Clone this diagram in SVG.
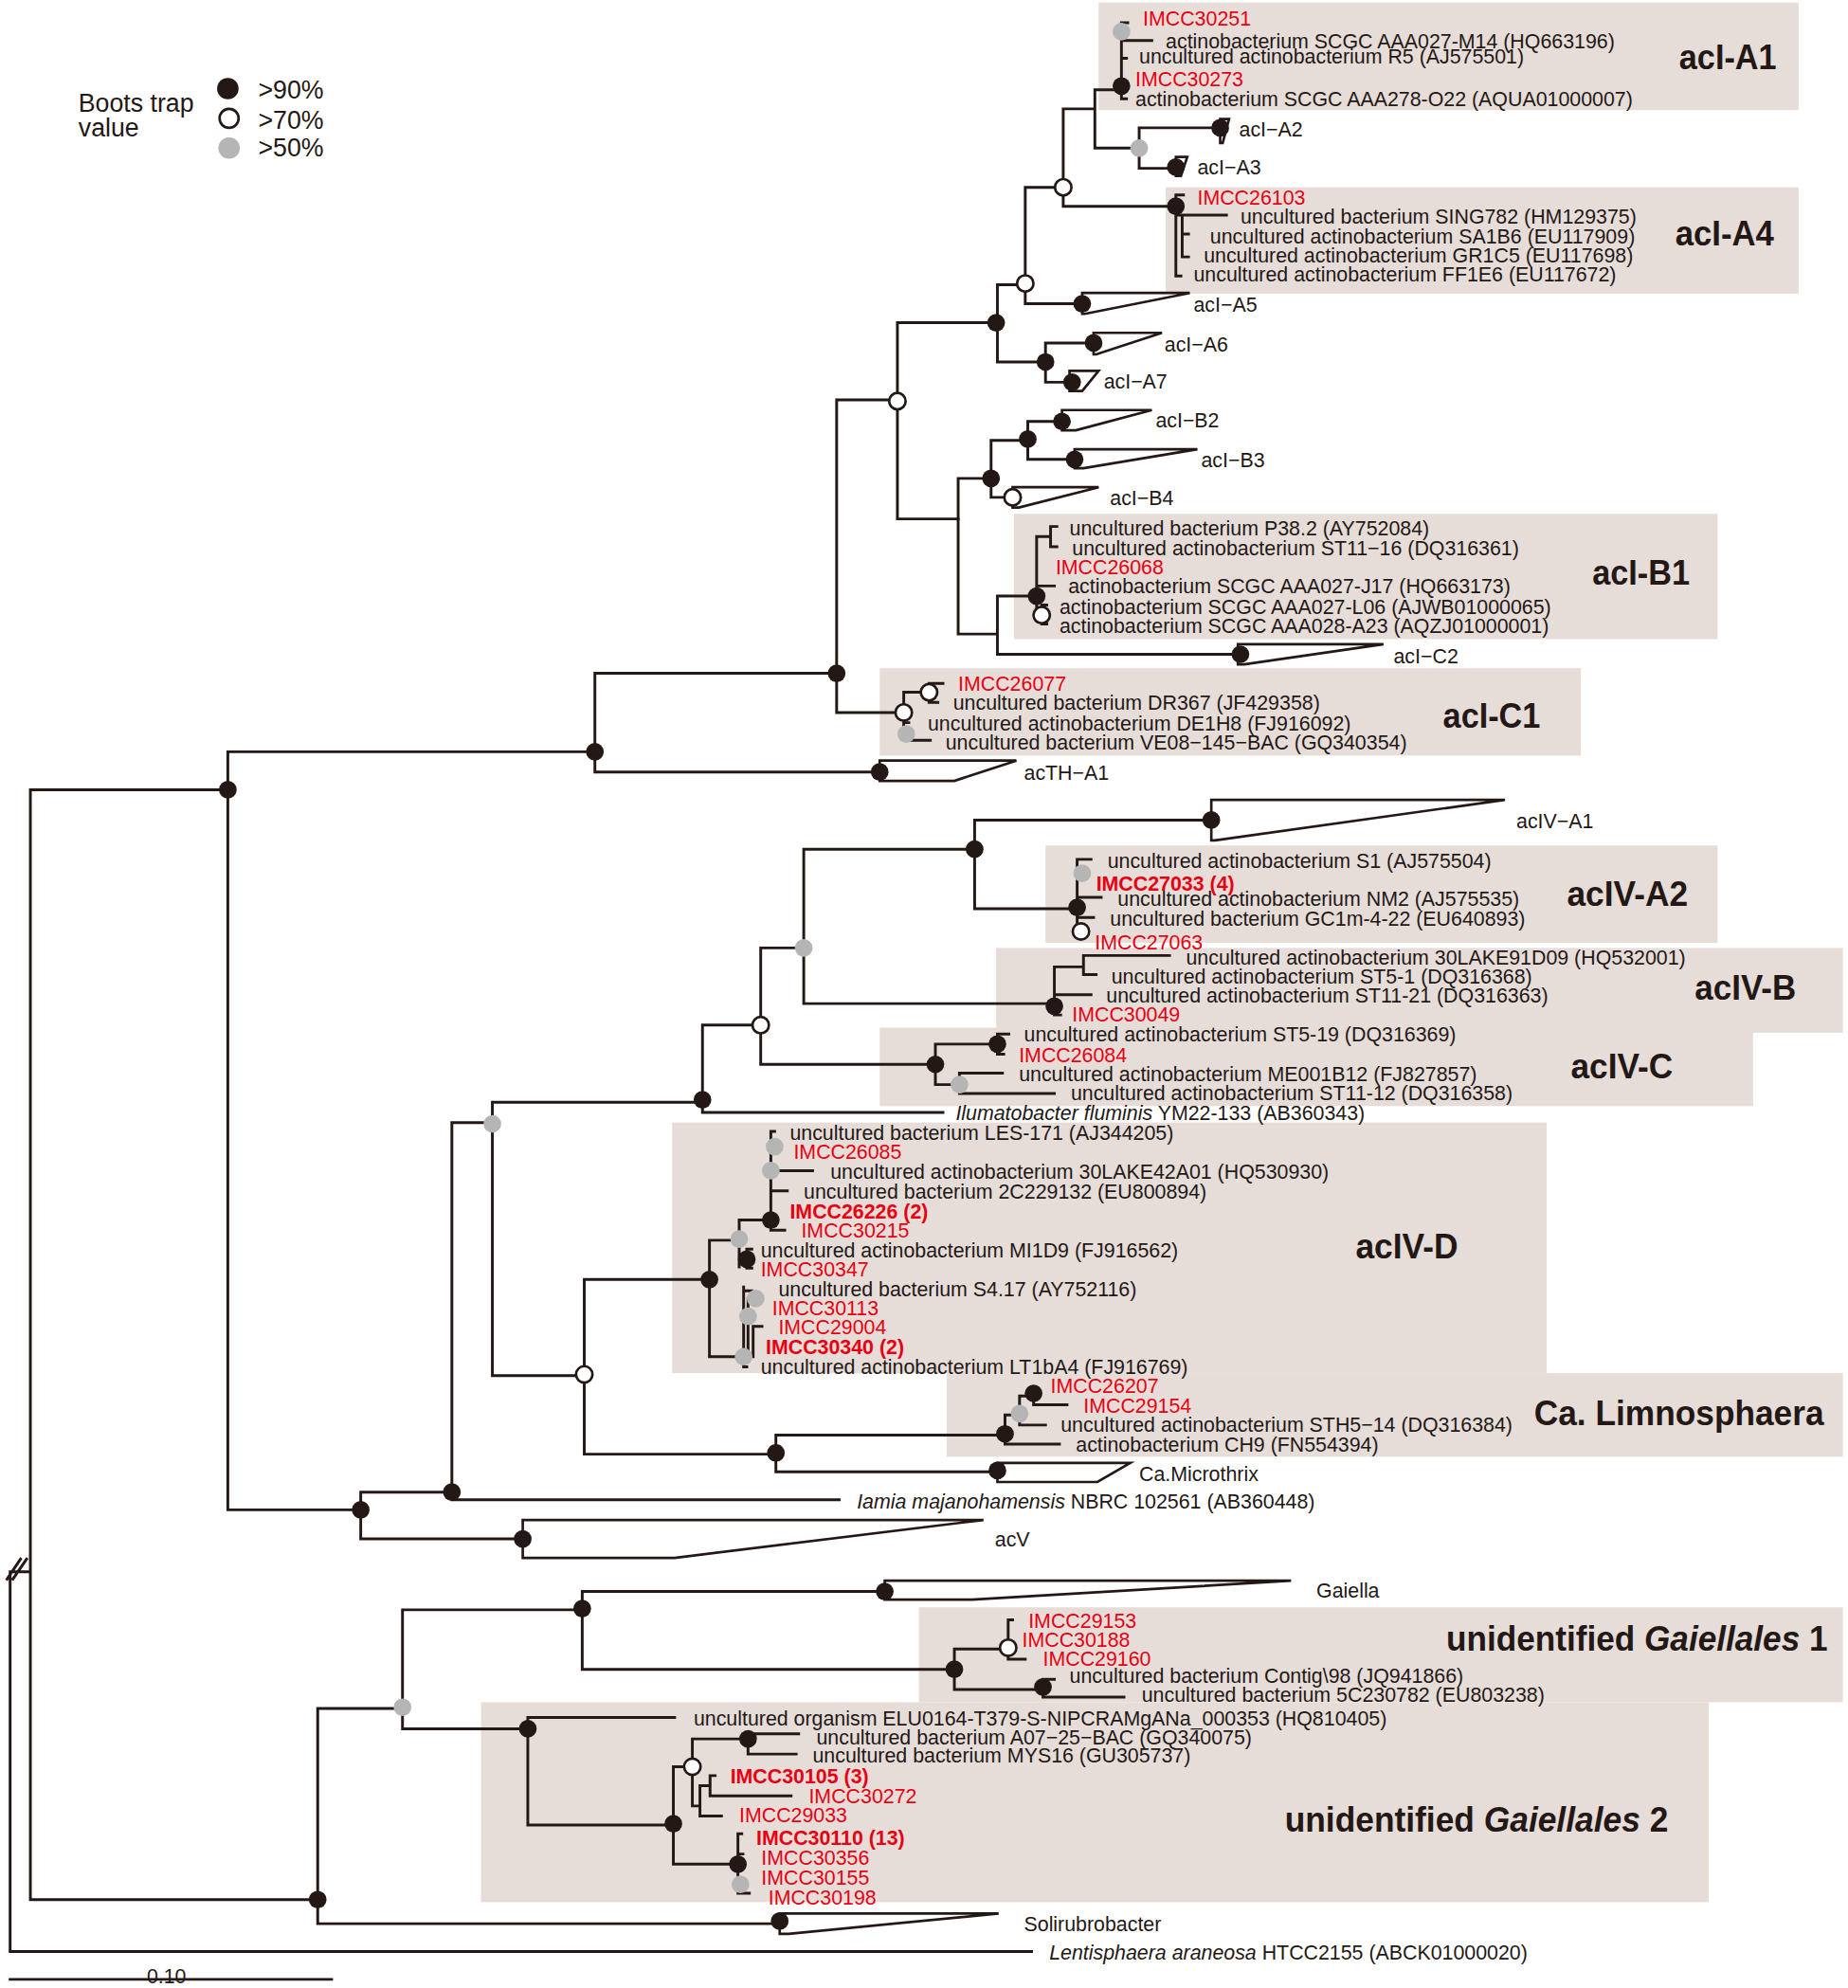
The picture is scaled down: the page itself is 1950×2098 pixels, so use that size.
<svg xmlns="http://www.w3.org/2000/svg" width="1950" height="2098" viewBox="0 0 1950 2098">
<style>
.ln{fill:none;stroke:#231815;stroke-width:2.2;stroke-linecap:square}
.cl{fill:#fff;stroke:#231815;stroke-width:2;stroke-linejoin:miter}
.b{fill:#231815}
.o{fill:#fff;stroke:#231815;stroke-width:2}
.g{fill:#b5b5b6}
.box{fill:#e6ddd9}
text{font-family:'Liberation Sans',Arial,sans-serif;fill:#231815}
.t{font-size:16px}
.r{fill:#e60012}
.bd{font-weight:bold}
.lab{font-size:27px;font-weight:bold}
.lg{font-size:20px}
</style>
<rect width="1950" height="2098" fill="#fff"/>
<g transform="scale(1.3356)">
<g id="boxes">
<rect class="box" x="868" y="2" width="553" height="85"/>
<rect class="box" x="921" y="148" width="500" height="84"/>
<rect class="box" x="801" y="406" width="556" height="99"/>
<rect class="box" x="695" y="528" width="554" height="69"/>
<rect class="box" x="826" y="668" width="531" height="77"/>
<rect class="box" x="787" y="749" width="669" height="67"/>
<rect class="box" x="695" y="812" width="690" height="62"/>
<rect class="box" x="531" y="887" width="691" height="198"/>
<rect class="box" x="748" y="1085" width="708" height="66"/>
<rect class="box" x="726" y="1270" width="730" height="75"/>
<rect class="box" x="380" y="1345" width="970" height="158"/>
</g>
<g id="connectors" class="ln">
<path d="M24,624H180M24,624V1501H251M8,1242H24M8,1242V1542H815M5.6,1247.7L16.2,1231.9M10.2,1247.7L21,1231.9"/>
<path d="M180,594V1193M180,594H470M180,1193H285M470,532V610M470,532H661M470,610H695M661,316V563M661,316H709M661,563H714M709,255V410M709,255H787M709,410H757"/>
<path d="M788,225V286M788,225H810M788,286H826M810,148V240M810,148H840M810,240H855M840,86V163M840,86H865M840,163H929M865,71V117M865,71H886M865,117H900"/>
<path d="M886,18V78M886,18H891M886,32H910M886,46H890M886,78H890M900,101V133M900,101H964M900,133H929M826,271V302M826,271H864M826,302H846"/>
<path d="M929,154V218M929,154H935M929,170H969M934,170V203M934,185H939M934,203H939M929,218H933"/>
<path d="M757,378V501M757,378H783M757,501H788M783,348V393M783,348H812M783,393H800M812,333V363M812,333H839M812,363H849M788,471V517M788,471H819M788,517H978"/>
<path d="M819,424V486M819,424H830M830,416V432M830,416H835M830,432H835M819,463H833M819,486H823M823,478V493M823,478H827M823,493H827"/>
<path d="M714,547V585M714,547H734M734,540V555M734,540H745M734,555H741M714,571H718M714,585H735"/>
<path d="M285,1179V1216M285,1179H357M285,1216H413M357,887V1185M357,887H389M357,1185H663"/>
<path d="M389,871V1087M389,871H555M389,1087H461.6M555,810V879M555,810H601M555,879H745M601,749V841M601,749H635M601,841H739M635,671V793M635,671H770M635,793H833M770,648V718M770,648H957M770,718H851"/>
<path d="M851,679V740M851,679H862M851,709H870M851,725H864M851,740H856"/>
<path d="M833,764V802M833,764H856M856,755V770M856,755H924M856,770H866M833,786H862M833,802H838"/>
<path d="M739,825V857M739,825H788M788,817V833M788,817H797M788,833H793M739,857H758M758,848V864M758,848H792M758,864H833"/>
<path d="M461.6,1011V1149M461.6,1011H560.5M461.6,1149H613M560.5,980V1072M560.5,980H584M560.5,1072H587.5M584,964V1001M584,964H609M584,995H590M590,987V1002M590,987H594M590,1002H594"/>
<path d="M609,894V972M609,894H612M609,925H642M609,941H622M609,972H620"/>
<path d="M587.5,1017V1080M587.5,1020H594M591,1026V1072M595,1048H602M595,1048V1072M587.5,1080H590"/>
<path d="M613,1134V1163M613,1134H794M613,1163H788M794,1118V1141M794,1118H805.5M794,1141H837M805.5,1103V1126M805.5,1103H816.6M805.5,1126H826M816.6,1097V1110M816.6,1097H820M816.6,1110H843"/>
<path d="M251,1350V1520M251,1350H318M251,1520H616M318,1272V1366M318,1272H460M318,1366H417M460,1257.5V1319M460,1257.5H699M460,1319H754"/>
<path d="M754,1303V1335M754,1303H796.5M754,1335H824M796.5,1280V1311M796.5,1280H800M796.5,1311H810M824,1327V1341M824,1327H833M824,1341H888"/>
<path d="M417,1357V1442M417,1357H533M417,1442H532M532,1396V1473M532,1396H547M532,1473H583M547,1374V1427M547,1374H591M547,1427H553M591,1370V1386M591,1370H631M591,1386H629M553,1411V1435M553,1411H561M553,1435H570M561,1403V1419M561,1403H565M561,1419H625M583,1449V1496M583,1449H586M583,1465H587M583,1496H592"/>
<path d="M8,1564H262"/>
</g>
<g id="collapsed">
<polygon class="cl" points="964,94 971,94 966,113 964,113"/>
<polygon class="cl" points="929,124 938,124 933,139 929,139"/>
<polygon class="cl" points="855,231.5 940,231.5 857,248 855,248"/>
<polygon class="cl" points="864,263 918,263 866,280 864,280"/>
<polygon class="cl" points="845,293 868,293 855,309 845,309"/>
<polygon class="cl" points="839,324 910,324 850,340 839,340"/>
<polygon class="cl" points="849,355 946,355 856,370 849,370"/>
<polygon class="cl" points="800,385 868,385 805,401 800,401"/>
<polygon class="cl" points="978,509 1093,509 983,525 978,525"/>
<polygon class="cl" points="695,601 803,601 754,617 695,617"/>
<polygon class="cl" points="957,632 1189,632 960,664 957,664"/>
<polygon class="cl" points="788,1156 893,1156 867,1171 788,1171"/>
<polygon class="cl" points="413,1201 777,1201 533,1231 413,1231"/>
<polygon class="cl" points="699,1249 1020,1249 768,1264 699,1264"/>
<polygon class="cl" points="616,1512 789,1512 623,1528 616,1528"/>
</g>
<g id="support-black" class="b">
<circle cx="180" cy="624" r="7"/><circle cx="470" cy="594" r="7"/><circle cx="661" cy="532" r="7"/><circle cx="787" cy="255" r="7"/><circle cx="826" cy="286" r="7"/><circle cx="855" cy="240" r="7"/><circle cx="864" cy="271" r="7"/><circle cx="847" cy="302" r="7"/><circle cx="886" cy="68" r="7"/><circle cx="964" cy="101" r="7"/><circle cx="929" cy="132" r="7"/><circle cx="929" cy="163" r="7"/><circle cx="783" cy="378" r="7"/><circle cx="812" cy="347" r="7"/><circle cx="839" cy="333" r="7"/><circle cx="849" cy="363" r="7"/><circle cx="819" cy="471" r="7"/><circle cx="980" cy="517" r="7"/><circle cx="695" cy="610" r="7"/><circle cx="285" cy="1193" r="7"/><circle cx="357" cy="1179" r="7"/><circle cx="413" cy="1216" r="7"/><circle cx="555" cy="869" r="7"/><circle cx="770" cy="671" r="7"/><circle cx="957" cy="648" r="7"/><circle cx="851" cy="717" r="7"/><circle cx="833" cy="795" r="7"/><circle cx="739" cy="841" r="7"/><circle cx="788" cy="825" r="7"/><circle cx="560.5" cy="1011" r="7"/><circle cx="609" cy="964" r="7"/><circle cx="590" cy="995" r="7"/><circle cx="613" cy="1148" r="7"/><circle cx="794" cy="1133" r="7"/><circle cx="816.6" cy="1101" r="7"/><circle cx="788" cy="1162" r="7"/><circle cx="460" cy="1271" r="7"/><circle cx="699" cy="1257.5" r="7"/><circle cx="754" cy="1319" r="7"/><circle cx="824" cy="1333" r="7"/><circle cx="417" cy="1366" r="7"/><circle cx="532" cy="1441" r="7"/><circle cx="591" cy="1374" r="7"/><circle cx="583" cy="1473" r="7"/><circle cx="251" cy="1501" r="7"/><circle cx="616" cy="1518" r="7"/>
</g>
<g id="support-open" class="o">
<circle cx="709" cy="317" r="6.5"/><circle cx="810" cy="224" r="6.5"/><circle cx="840" cy="148" r="6.5"/><circle cx="800" cy="393" r="6.5"/><circle cx="823" cy="486" r="6.5"/><circle cx="714" cy="563" r="6.5"/><circle cx="734" cy="547" r="6.5"/><circle cx="601" cy="810" r="6.5"/><circle cx="854" cy="736" r="6.5"/><circle cx="461.6" cy="1086" r="6.5"/><circle cx="796.5" cy="1302" r="6.5"/><circle cx="547" cy="1396" r="6.5"/>
</g>
<g id="support-gray" class="g">
<circle cx="886" cy="25" r="7"/><circle cx="900" cy="117" r="7"/><circle cx="716" cy="580" r="7"/><circle cx="389" cy="888" r="7"/><circle cx="635" cy="749" r="7"/><circle cx="855" cy="690" r="7"/><circle cx="758" cy="857" r="7"/><circle cx="584" cy="979" r="7"/><circle cx="612" cy="906" r="7"/><circle cx="609" cy="925" r="7"/><circle cx="597" cy="1026" r="7"/><circle cx="591" cy="1040" r="7"/><circle cx="587.5" cy="1072" r="7"/><circle cx="805.5" cy="1117" r="7"/><circle cx="318" cy="1349" r="7"/><circle cx="585" cy="1489" r="7"/>
</g>
<g id="clade-acI-A1">
<text x="903" y="20" class="t r">IMCC30251</text>
<text x="921" y="38" class="t">actinobacterium SCGC AAA027-M14 (HQ663196)</text>
<text x="900" y="50" class="t">uncultured actinobacterium R5 (AJ575501)</text>
<text x="897" y="68" class="t r">IMCC30273</text>
<text x="897" y="84" class="t">actinobacterium SCGC AAA278-O22 (AQUA01000007)</text>
<text x="1326.6" y="54.6" class="lab" textLength="77" lengthAdjust="spacingAndGlyphs">acI-A1</text>
</g>
<g id="clade-labels-acI">
<text x="979" y="108" class="t">acI−A2</text>
<text x="946" y="138" class="t">acI−A3</text>
<text x="943" y="246" class="t">acI−A5</text>
<text x="920" y="278" class="t">acI−A6</text>
<text x="872" y="307" class="t">acI−A7</text>
<text x="913" y="338" class="t">acI−B2</text>
<text x="949" y="369" class="t">acI−B3</text>
<text x="877" y="399" class="t">acI−B4</text>
<text x="1101" y="524" class="t">acI−C2</text>
<text x="809" y="616" class="t">acTH−A1</text>
<text x="1198" y="654.5" class="t">acIV−A1</text>
</g>
<g id="clade-acI-A4">
<text x="946" y="162" class="t r">IMCC26103</text>
<text x="980" y="177" class="t">uncultured bacterium SING782 (HM129375)</text>
<text x="956" y="192.5" class="t">uncultured actinobacterium SA1B6 (EU117909)</text>
<text x="951" y="207.5" class="t">uncultured actinobacterium GR1C5 (EU117698)</text>
<text x="943" y="222.5" class="t">uncultured actinobacterium FF1E6 (EU117672)</text>
<text x="1323.5" y="194" class="lab" textLength="78" lengthAdjust="spacingAndGlyphs">acI-A4</text>
</g>
<g id="clade-acI-B1">
<text x="845" y="423" class="t">uncultured bacterium P38.2 (AY752084)</text>
<text x="847" y="439" class="t">uncultured actinobacterium ST11−16 (DQ316361)</text>
<text x="834" y="454" class="t r">IMCC26068</text>
<text x="844" y="469" class="t">actinobacterium SCGC AAA027-J17 (HQ663173)</text>
<text x="837" y="485" class="t">actinobacterium SCGC AAA027-L06 (AJWB01000065)</text>
<text x="837" y="500" class="t">actinobacterium SCGC AAA028-A23 (AQZJ01000001)</text>
<text x="1258" y="462" class="lab" textLength="77" lengthAdjust="spacingAndGlyphs">acI-B1</text>
</g>
<g id="clade-acI-C1">
<text x="757" y="546" class="t r">IMCC26077</text>
<text x="753" y="561" class="t">uncultured bacterium DR367 (JF429358)</text>
<text x="733" y="577" class="t">uncultured actinobacterium DE1H8 (FJ916092)</text>
<text x="747" y="592.5" class="t">uncultured bacterium VE08−145−BAC (GQ340354)</text>
<text x="1140" y="575" class="lab" textLength="77" lengthAdjust="spacingAndGlyphs">acI-C1</text>
</g>
<g id="clade-acIV-A2">
<text x="875" y="685.5" class="t">uncultured actinobacterium S1 (AJ575504)</text>
<text x="866" y="703.5" class="t r bd">IMCC27033 (4)</text>
<text x="883" y="716" class="t">uncultured actinobacterium NM2 (AJ575535)</text>
<text x="877" y="731.5" class="t">uncultured bacterium GC1m-4-22 (EU640893)</text>
<text x="865" y="750.5" class="t r">IMCC27063</text>
<text x="1238" y="716" class="lab" textLength="95.5" lengthAdjust="spacingAndGlyphs">acIV-A2</text>
</g>
<g id="clade-acIV-B">
<text x="937" y="762" class="t">uncultured actinobacterium 30LAKE91D09 (HQ532001)</text>
<text x="878" y="777.5" class="t">uncultured actinobacterium ST5-1 (DQ316368)</text>
<text x="874" y="792.5" class="t">uncultured actinobacterium ST11-21 (DQ316363)</text>
<text x="847" y="807.5" class="t r">IMCC30049</text>
<text x="1339" y="790" class="lab" textLength="80" lengthAdjust="spacingAndGlyphs">acIV-B</text>
</g>
<g id="clade-acIV-C">
<text x="809" y="823" class="t">uncultured actinobacterium ST5-19 (DQ316369)</text>
<text x="805" y="839" class="t r">IMCC26084</text>
<text x="805" y="854" class="t">uncultured actinobacterium ME001B12 (FJ827857)</text>
<text x="846" y="869" class="t">uncultured actinobacterium ST11-12 (DQ316358)</text>
<text x="1241" y="852" class="lab" textLength="80.6" lengthAdjust="spacingAndGlyphs">acIV-C</text>
</g>
<g id="leaf-ilumatobacter">
<text x="755" y="885" class="t"><tspan font-style="italic">Ilumatobacter fluminis</tspan> YM22-133 (AB360343)</text>
</g>
<g id="clade-acIV-D">
<text x="624" y="900.5" class="t">uncultured bacterium LES-171 (AJ344205)</text>
<text x="627" y="916" class="t r">IMCC26085</text>
<text x="656" y="931.5" class="t">uncultured actinobacterium 30LAKE42A01 (HQ530930)</text>
<text x="635" y="947" class="t">uncultured bacterium 2C229132 (EU800894)</text>
<text x="624" y="962.5" class="t r bd">IMCC26226 (2)</text>
<text x="633" y="977.5" class="t r">IMCC30215</text>
<text x="601" y="993.5" class="t">uncultured actinobacterium MI1D9 (FJ916562)</text>
<text x="601" y="1008.5" class="t r">IMCC30347</text>
<text x="615" y="1024" class="t">uncultured bacterium S4.17 (AY752116)</text>
<text x="610" y="1039" class="t r">IMCC30113</text>
<text x="615" y="1054" class="t r">IMCC29004</text>
<text x="605" y="1070" class="t r bd">IMCC30340 (2)</text>
<text x="601" y="1085.5" class="t">uncultured actinobacterium LT1bA4 (FJ916769)</text>
<text x="1071" y="994" class="lab" textLength="81" lengthAdjust="spacingAndGlyphs">acIV-D</text>
</g>
<g id="clade-limnosphaera">
<text x="830" y="1101" class="t r">IMCC26207</text>
<text x="856" y="1116" class="t r">IMCC29154</text>
<text x="838" y="1131.5" class="t">uncultured actinobacterium STH5−14 (DQ316384)</text>
<text x="850" y="1147" class="t">actinobacterium CH9 (FN554394)</text>
<text x="1212" y="1126" class="lab" textLength="229" lengthAdjust="spacingAndGlyphs">Ca. Limnosphaera</text>
</g>
<g id="leaves-misc">
<text x="900" y="1170.5" class="t">Ca.Microthrix</text>
<text x="677" y="1192" class="t"><tspan font-style="italic">Iamia majanohamensis</tspan> NBRC 102561 (AB360448)</text>
<text x="786" y="1222" class="t">acV</text>
<text x="1040" y="1262.5" class="t">Gaiella</text>
<text x="809" y="1526" class="t">Solirubrobacter</text>
<text x="829" y="1548" class="t"><tspan font-style="italic">Lentisphaera araneosa</tspan> HTCC2155 (ABCK01000020)</text>
</g>
<g id="clade-gaiellales-1">
<text x="812.5" y="1286" class="t r">IMCC29153</text>
<text x="807.5" y="1301" class="t r">IMCC30188</text>
<text x="824" y="1316.5" class="t r">IMCC29160</text>
<text x="845" y="1330" class="t">uncultured bacterium Contig\98 (JQ941866)</text>
<text x="902" y="1345" class="t">uncultured bacterium 5C230782 (EU803238)</text>
<text x="1142.5" y="1304" class="lab" textLength="301.5" lengthAdjust="spacingAndGlyphs">unidentified <tspan font-style="italic">Gaiellales</tspan> 1</text>
</g>
<g id="clade-gaiellales-2">
<text x="548" y="1363.5" class="t">uncultured organism ELU0164-T379-S-NIPCRAMgANa_000353 (HQ810405)</text>
<text x="645" y="1378.5" class="t">uncultured bacterium A07−25−BAC (GQ340075)</text>
<text x="642" y="1393" class="t">uncultured bacterium MYS16 (GU305737)</text>
<text x="577" y="1409" class="t r bd">IMCC30105 (3)</text>
<text x="639" y="1424.5" class="t r">IMCC30272</text>
<text x="584" y="1440" class="t r">IMCC29033</text>
<text x="597.5" y="1458" class="t r bd">IMCC30110 (13)</text>
<text x="601.5" y="1473.5" class="t r">IMCC30356</text>
<text x="601.5" y="1489" class="t r">IMCC30155</text>
<text x="607" y="1505" class="t r">IMCC30198</text>
<text x="1015" y="1447" class="lab" textLength="303" lengthAdjust="spacingAndGlyphs">unidentified <tspan font-style="italic">Gaiellales</tspan> 2</text>
</g>
<g id="scale-bar">
<text x="116" y="1567" class="t">0.10</text>
</g>
<g id="legend">
<text x="62" y="88" class="lg">Boots trap</text>
<text x="62" y="108" class="lg">value</text>
<circle cx="180" cy="70" r="8.5" class="b"/>
<circle cx="181" cy="93.5" r="7.5" class="o"/>
<circle cx="181" cy="117" r="8.5" class="g"/>
<text x="204" y="78" class="lg">&gt;90%</text>
<text x="204" y="101.5" class="lg">&gt;70%</text>
<text x="204" y="123.5" class="lg">&gt;50%</text>
</g>
</g>
</svg>
